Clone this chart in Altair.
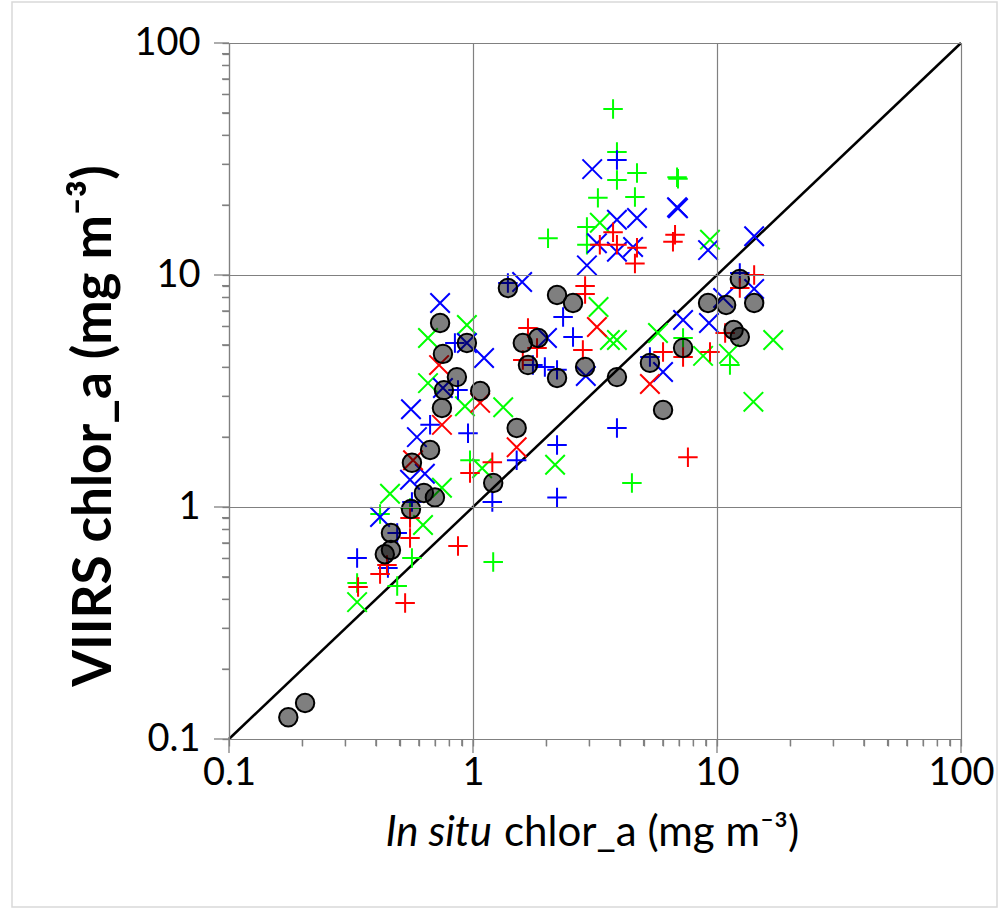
import altair as alt
import pandas as pd

# ---- data ----
circ_x = [0.175, 0.205, 0.435, 0.461, 0.461, 0.557, 0.629, 0.698, 0.562, 0.667, 1.21, 0.733, 0.944, 0.753,
          0.859, 0.760, 1.07, 0.746, 1.39, 2.21, 2.57, 1.60, 1.85, 1.68, 2.21, 2.88, 3.89, 1.51, 5.31, 7.26,
          6.01, 9.19, 10.9, 14.2, 12.4, 11.7, 12.4]
circ_y = [0.124, 0.143, 0.626, 0.653, 0.773, 0.98, 1.15, 1.10, 1.55, 1.76, 1.27, 6.21, 5.09, 4.57,
          3.63, 3.19, 3.16, 2.67, 8.79, 8.2, 7.57, 5.09, 5.35, 4.09, 3.6, 4.01, 3.63, 2.19, 4.18, 4.85,
          2.62, 7.57, 7.43, 7.57, 9.61, 5.79, 5.4]

blue_x_x = [3.08, 3.89, 4.70, 6.86, 6.92, 3.22, 3.89, 4.53, 2.93, 9.19, 14.2, 14.2, 10.6, 7.26, 9.27, 6.01,
            2.90, 2.01, 1.59, 1.11, 0.733, 0.557, 0.589, 0.552, 0.635, 0.416, 0.944, 0.753]
blue_x_y = [28.6, 17.3, 17.6, 19.6, 19.4, 13.7, 12.6, 13.2, 11.0, 12.8, 14.7, 8.71, 7.96, 6.40, 6.21, 3.82,
            3.67, 5.35, 9.33, 4.39, 7.57, 2.64, 2.00, 1.31, 1.39, 0.906, 5.09, 3.26]

blue_p_x = [3.89, 1.39, 2.34, 2.57, 1.76, 1.97, 2.21, 3.89, 2.21, 1.51, 2.21, 12.4, 5.31, 0.843, 0.868,
            0.667, 0.954, 0.335, 0.489, 0.448, 0.562, 1.20]
blue_p_y = [31.3, 9.24, 6.59, 5.40, 4.09, 4.01, 3.90, 2.19, 1.85, 1.59, 1.10, 10.2, 4.43, 5.09, 3.19,
            2.26, 2.08, 0.603, 0.773, 0.546, 1.05, 1.05]

red_x_x = [0.726, 0.746, 1.07, 1.51, 3.22, 5.31, 0.568]
red_x_y = [4.09, 2.26, 2.81, 1.81, 5.97, 3.39, 1.59]

red_p_x = [3.75, 3.31, 3.89, 4.70, 4.61, 6.73, 6.6, 2.88, 2.88, 2.82, 1.83, 1.60, 1.68, 6.01, 7.26, 9.36,
           10.8, 12.4, 14.2, 7.6, 1.20, 0.972, 0.868, 0.552, 0.552, 0.444, 0.416, 0.338, 0.527]
red_p_y = [15.3, 13.5, 13.5, 13.1, 11.2, 14.9, 13.9, 8.97, 8.28, 4.75, 4.85, 4.30, 5.91, 4.66, 4.43, 4.66,
           5.62, 8.79, 10.0, 1.64, 1.56, 1.40, 0.679, 0.735, 0.897, 0.562, 0.514, 0.452, 0.386]

green_x_x = [0.654, 0.944, 0.654, 0.927, 1.33, 0.746, 0.457, 0.624, 0.335, 1.09, 2.17, 3.27, 3.64, 3.89,
             5.73, 8.77, 11.2, 17.0, 14.1, 9.36, 3.31]
green_x_y = [5.35, 6.09, 3.42, 2.72, 2.69, 1.21, 1.14, 0.836, 0.389, 1.47, 1.52, 7.28, 5.25, 5.25,
             5.62, 4.48, 4.57, 5.25, 2.84, 14.2, 16.8]

green_p_x = [3.75, 3.89, 3.89, 4.70, 3.25, 4.61, 6.86, 6.92, 2.93, 2.93, 2.03, 7.26, 11.3, 4.48, 0.972,
             0.552, 0.416, 0.562, 0.489, 0.335, 1.21]
green_p_y = [51.9, 33.9, 25.7, 27.5, 21.5, 21.7, 26.4, 26.0, 16.1, 13.5, 14.4, 5.35, 4.09, 1.27, 1.59,
             0.99, 0.933, 0.603, 0.457, 0.470, 0.579]

one_to_one = [0.1, 100]
major_ticks = [0.1, 1, 10, 100]
minor_ticks = [m * 10 ** e for e in (-1, 0, 1) for m in range(2, 10)]
tick_values = sorted(major_ticks + minor_ticks)

FONT = "Lato, 'Noto Sans', 'DejaVu Sans', sans-serif"
GRAY = "#808080"

is_decade = "abs(log(datum.value)/LN10 - round(log(datum.value)/LN10)) < 0.001"

xscale = alt.Scale(type="log", domain=[0.1, 100], nice=False)
yscale = alt.Scale(type="log", domain=[0.1, 100], nice=False)


def make_axis(orient, pad):
    return alt.Axis(
        orient=orient, values=tick_values, title=None,
        labelExpr=f"{is_decade} ? format(datum.value, '~g') : ''",
        labelFont=FONT, labelFontSize=38, labelColor="#000000",
        labelOverlap=False, labelFlush=False, labelBound=False, labelPadding=pad,
        domainColor=GRAY, domainWidth=1.2,
        ticks=True, tickColor=GRAY, tickWidth=1.3, tickSize=7,
        grid=True, gridColor=GRAY, gridWidth=1.2,
        gridOpacity={"condition": {"test": is_decade, "value": 1}, "value": 0},
        zindex=1,
    )


XAXIS = make_axis("bottom", 8)
YAXIS = make_axis("left", 22)


def df(xs, ys):
    return pd.DataFrame({"x": xs, "y": ys})


def enc(chart):
    return chart.encode(
        x=alt.X("x:Q", scale=xscale, axis=XAXIS),
        y=alt.Y("y:Q", scale=yscale, axis=YAXIS),
    )


PLUS = "M-1,0L1,0M0,-1L0,1"
CROSS = "M-1,-1L1,1M-1,1L1,-1"

line = enc(alt.Chart(df(one_to_one, one_to_one)).mark_line(color="black", strokeWidth=2.5))


def markers(xs, ys, shape, color, size):
    return enc(alt.Chart(df(xs, ys)).mark_point(
        shape=shape, filled=False, color=color, strokeWidth=2, size=size, opacity=1))


gx = markers(green_x_x, green_x_y, CROSS, "#00ff00", 380)
gp = markers(green_p_x, green_p_y, PLUS, "#00ff00", 380)
bx = markers(blue_x_x, blue_x_y, CROSS, "#0000ff", 380)
bp = markers(blue_p_x, blue_p_y, PLUS, "#0000ff", 380)
rx = markers(red_x_x, red_x_y, CROSS, "#ff0000", 380)
rp = markers(red_p_x, red_p_y, PLUS, "#ff0000", 380)

circles = enc(alt.Chart(df(circ_x, circ_y)).mark_circle(
    size=340, color="black", fillOpacity=0.5, opacity=1, stroke="black", strokeWidth=2))


# tick marks (major longer than minor), drawn through the scales
def xticks(vals, length):
    return alt.Chart(pd.DataFrame({"x": vals})).mark_rule(color=GRAY, strokeWidth=1.3).encode(
        x=alt.X("x:Q", scale=xscale, axis=XAXIS), y=alt.value(696), y2=alt.value(696 + length))


def yticks(vals, length):
    return alt.Chart(pd.DataFrame({"y": vals})).mark_rule(color=GRAY, strokeWidth=1.3).encode(
        y=alt.Y("y:Q", scale=yscale, axis=YAXIS), x=alt.value(-length), x2=alt.value(0))


ticks = [xticks(major_ticks, 14), xticks(minor_ticks, 7), yticks(major_ticks, 15), yticks(minor_ticks, 7)]

# frame around whole figure
frame = alt.Chart(pd.DataFrame({"a": [0]})).mark_rect(
    fill="transparent", stroke="#d9d9d9", strokeWidth=1.5
).encode(x=alt.value(-217), x2=alt.value(768), y=alt.value(-41), y2=alt.value(864))

# axis titles
xt1 = alt.Chart(pd.DataFrame({"t": ["In situ"]})).mark_text(
    font=FONT, fontSize=42, fontStyle="italic", align="right", baseline="middle", color="black"
).encode(x=alt.value(263), y=alt.value(790), text="t:N")
xt2 = alt.Chart(pd.DataFrame({"t": ["chlor_a (mg m\u207b\u00b3)"]})).mark_text(
    font=FONT, fontSize=42, align="left", baseline="middle", color="black"
).encode(x=alt.value(275), y=alt.value(790), text="t:N")
yt = alt.Chart(pd.DataFrame({"t": ["VIIRS chlor_a (mg m\u207b\u00b3)"]})).mark_text(
    font=FONT, fontSize=53, fontWeight="bold", align="center", baseline="middle", angle=270, color="black"
).encode(x=alt.value(-134), y=alt.value(383), text="t:N")

chart = alt.layer(line, gx, gp, bx, bp, rx, rp, circles, frame, xt1, xt2, yt, *ticks).properties(
    width=732, height=696,
    padding={"left": 229, "top": 43, "right": 39, "bottom": 170},
    autosize=alt.AutoSizeParams(type="none"),
).configure_view(stroke=None).configure(background="white")

chart.save("out.html", embed_options={"renderer": "svg", "actions": False})
